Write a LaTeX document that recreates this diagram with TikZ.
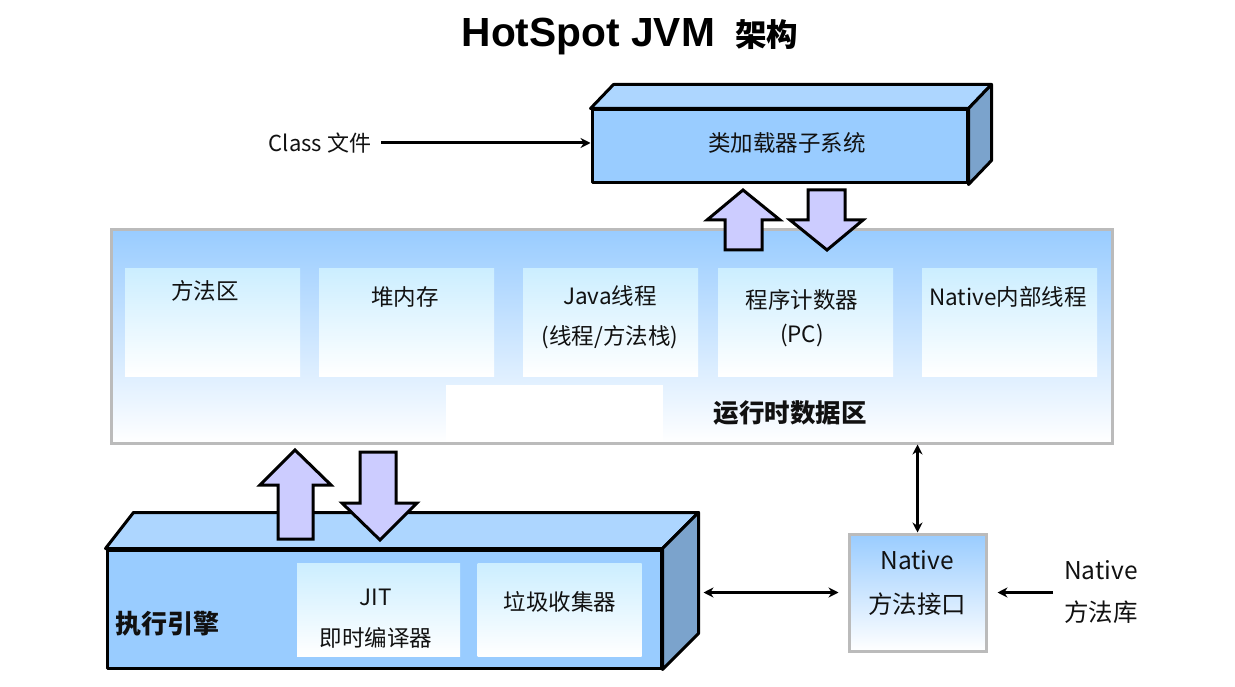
\documentclass[tikz,border=0pt]{standalone}
\usepackage{fontspec}
\setmainfont{Noto Sans CJK SC}
\newfontfamily\arialbf{Liberation Sans}[Scale=1.0]
\usetikzlibrary{arrows.meta}
\definecolor{frontc}{HTML}{99CCFF}
\definecolor{topc}{HTML}{ADD6FF}
\definecolor{sidec}{HTML}{7BA3CC}
\definecolor{innerc}{HTML}{CCEEFF}
\definecolor{grayb}{HTML}{BBBBBB}
\definecolor{arrowc}{HTML}{CCCCFF}
\definecolor{txt}{HTML}{111111}
\tikzset{
  cubeface/.style={draw=black,line width=3pt,line join=round},
  frontbox/.style={cubeface,fill=frontc,inner sep=0pt},
  region/.style={draw=grayb,line width=3pt,top color=frontc,bottom color=white,inner sep=0pt},
  innerbox/.style={top color=innerc,bottom color=white,inner sep=0pt},
  blockarrow/.style={draw=black,line width=3pt,fill=arrowc,line join=miter},
  conn/.style={line width=3pt,-{Stealth[length=10pt,width=10pt]}},
  dconn/.style={line width=3pt,{Stealth[length=10pt,width=10pt]}-{Stealth[length=10pt,width=10pt]}},
  lbl/.style={text=txt,font=\fontsize{22.5}{26}\selectfont,inner sep=0pt},
  blbl/.style={text=txt,font=\fontsize{26}{30}\selectfont\bfseries,inner sep=0pt},
  biglbl/.style={lbl,font=\fontsize{24.5}{28}\selectfont},
}
\begin{document}
\begin{tikzpicture}[x=1pt,y=-1pt]
\useasboundingbox[fill=white] (0,0) rectangle (1235,687);

% title
\node[inner sep=0pt,anchor=base] (title) at (630,47) {\fontsize{40.7}{44}\selectfont\arialbf\bfseries HotSpot JVM\hspace{0.5em}{\fontsize{31.5}{34}\selectfont\rmfamily\bfseries 架构}};

% class loader
\node[frontbox,minimum width=375pt,minimum height=73pt] (loader) at (779.5,146.5) {};
\draw[cubeface,fill=topc] (loader.north west) -- ++(23,-24) -- ([shift={(23,-24)}]loader.north east) -- (loader.north east) -- cycle;
\draw[cubeface,fill=sidec] (loader.north east) -- ++(23,-24) -- ([shift={(23,-24)}]loader.south east) -- (loader.south east) -- cycle;
\node[lbl] (loadertxt) at (787,143) {类加载器子系统};

\node[lbl,font=\fontsize{22}{26}\selectfont] (classf) at (320,143) {Class 文件};
\path (classf.east) ++(10,0) coordinate (cstart);
\draw[conn] (cstart) -- (cstart -| loader.west);

% runtime data area
\node[region,minimum width=1001pt,minimum height=213pt] (rt) at (611.5,336.5) {};
\fill[white] (446,385) rectangle (663,441.5);
\node[innerbox,minimum width=175pt,minimum height=107pt] (m1) at (212.5,322.5) {};
\node[innerbox,minimum width=175pt,minimum height=107pt] (m2) at (406.5,322.5) {};
\node[innerbox,minimum width=175pt,minimum height=107pt] (m3) at (610.5,322.5) {};
\node[innerbox,minimum width=175pt,minimum height=107pt] (m4) at (805.5,322.5) {};
\node[innerbox,minimum width=175pt,minimum height=107pt] (m5) at (1009.5,322.5) {};
\node[lbl] (t1) at (205,291) {方法区};
\node[lbl] (t2) at (405,297) {堆内存};
\node[lbl] (t3a) at (610,296) {Java线程};
\node[lbl] (t3b) at (610,337) {(线程/方法栈)};
\node[lbl] (t4a) at (802,300) {程序计数器};
\node[lbl] (t4b) at (802,336) {(PC)};
\node[lbl] (t5) at (1008,297) {Native内部线程};
\node[blbl,font=\fontsize{25.5}{30}\selectfont\bfseries] (rttxt) at (790,413) {运行时数据区};

% arrows loader <-> runtime
\draw[blockarrow] (743,190) -- (780,220) -- (762,220) -- (762,250) -- (725,250) -- (725,220) -- (707,220) -- cycle;
\draw[blockarrow] (808,190) -- (845,190) -- (845,220) -- (863,220) -- (827,250) -- (790,220) -- (808,220) -- cycle;

% execution engine
\node[frontbox,minimum width=554pt,minimum height=118pt] (eng) at (384,609) {};
\draw[cubeface,fill=topc] (eng.north west) -- ++(28,-36) -- ([shift={(36,-36)}]eng.north east) -- (eng.north east) -- cycle;
\draw[cubeface,fill=sidec] (eng.north east) -- ++(36,-36) -- ([shift={(36,-36)}]eng.south east) -- (eng.south east) -- cycle;
\node[innerbox,minimum width=163pt,minimum height=93pt] (jit) at (378.5,609.5) {};
\node[innerbox,minimum width=164pt,minimum height=93pt] (gc) at (559.5,609.5) {};
\node[lbl] (jita) at (376,597) {JIT};
\node[lbl] (jitb) at (376,638) {即时编译器};
\node[lbl] (gct) at (560,602) {垃圾收集器};
\node[blbl] (engt) at (167,624) {执行引擎};

% arrows runtime <-> engine
\draw[blockarrow] (295,450) -- (331,485) -- (313,485) -- (313,539) -- (278,539) -- (278,485) -- (260,485) -- cycle;
\draw[blockarrow] (360,452) -- (396,452) -- (396,503) -- (417,503) -- (380,540) -- (342,503) -- (360,503) -- cycle;

% native interface
\node[region,minimum width=137pt,minimum height=117pt] (nif) at (917.5,592.5) {};
\node[biglbl] (nifa) at (917,560) {Native};
\node[biglbl] (nifb) at (917,604) {方法接口};

\node[biglbl,anchor=west] (liba) at (1064,570) {Native};
\node[biglbl,anchor=west] (libb) at (1064,612) {方法库};

\path ([xshift=41pt]eng.east) coordinate (e1);
\draw[dconn] (nif.north |- rt.south) -- (nif.north);
\draw[dconn] (e1 |- nif.west) -- ([xshift=-9pt]nif.west);
\path (liba.west |- nif.east) ++(-11,0) coordinate (lstart);
\draw[conn] (lstart) -- ([xshift=10pt]nif.east);
\end{tikzpicture}
\end{document}
